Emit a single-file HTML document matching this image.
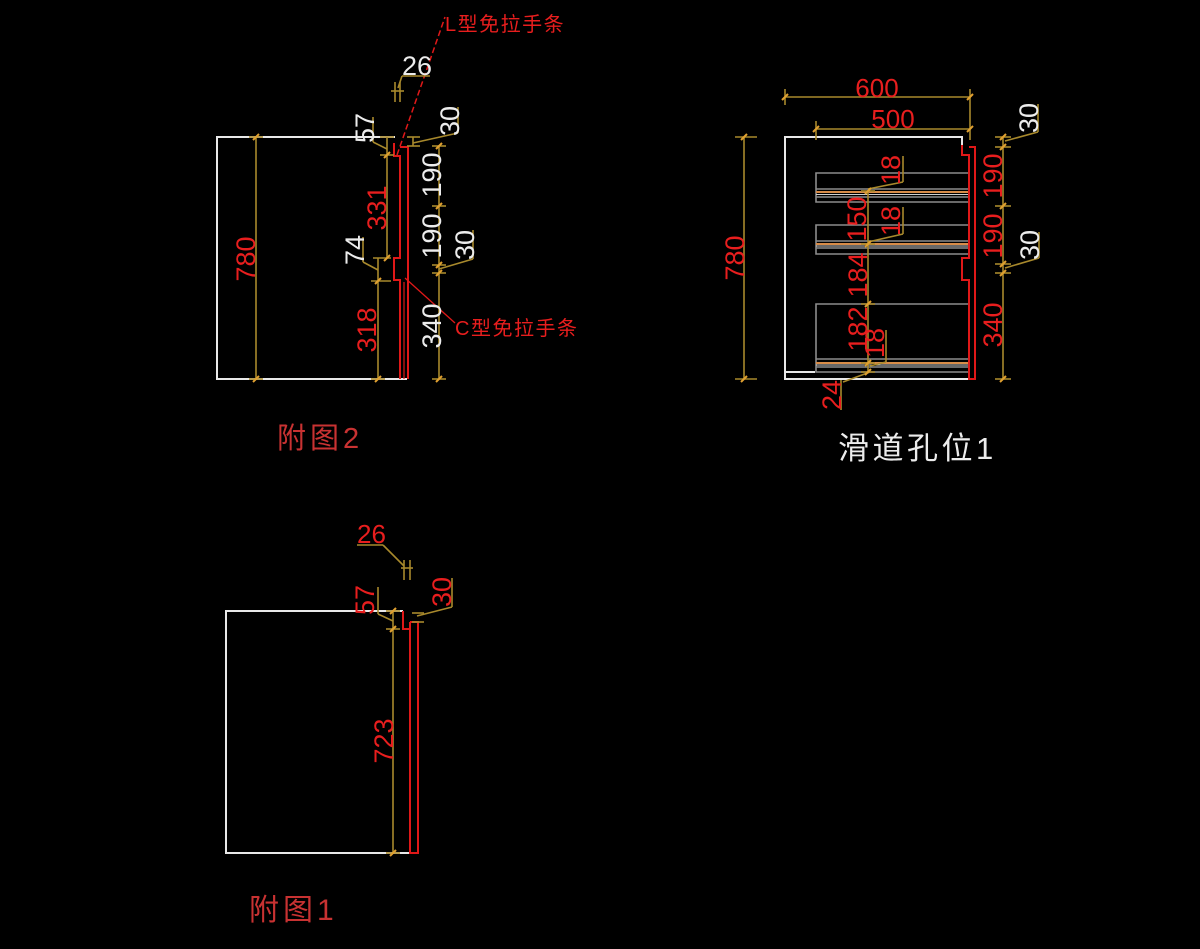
<!DOCTYPE html>
<html><head><meta charset="utf-8"><style>
html,body{margin:0;padding:0;background:#000;}
svg{display:block;}
text{font-family:"Liberation Sans","Noto Sans CJK SC",sans-serif;}
.w{fill:#ececec;} .r{fill:#e81e1e;} .t{fill:#c83232;}
</style></head><body>
<svg width="1200" height="949" viewBox="0 0 1200 949" xmlns="http://www.w3.org/2000/svg">
<rect width="1200" height="949" fill="#000"/>

<!-- ================= 附图2 ================= -->
<g fill="none" stroke="#e8e8e8" stroke-width="2">
  <polyline points="395,137 217,137 217,379 407,379"/>
</g>
<g fill="none" stroke="#e01818" stroke-width="2">
  <path d="M394,143 V156 H400 V258 H394 V280 H400 V379 M400,147 H408 V379"/>
  <line x1="404" y1="282" x2="404" y2="379" stroke-width="1.2"/>
</g>
<!-- leader L -->
<line x1="397" y1="155" x2="445" y2="17" stroke="#e01818" stroke-width="1.5" stroke-dasharray="6,3"/>
<!-- leader C -->
<line x1="405" y1="278" x2="455" y2="323" stroke="#e01818" stroke-width="1.3"/>

<g stroke="#a8892c" stroke-width="1.6" fill="none">
  <!-- 780 -->
  <line x1="256" y1="137" x2="256" y2="379"/>
  <line x1="249" y1="137" x2="263" y2="137"/><line x1="249" y1="379" x2="263" y2="379"/>
  <!-- 57 / 331 -->
  <line x1="387" y1="137" x2="387" y2="258"/>
  <line x1="380" y1="137" x2="394" y2="137"/><line x1="380" y1="155" x2="394" y2="155"/>
  <line x1="373" y1="258" x2="391" y2="258"/>
  <line x1="373" y1="117" x2="373" y2="142"/><line x1="373" y1="142" x2="387" y2="149"/>
  <!-- 74 / 318 -->
  <line x1="378" y1="258" x2="378" y2="379"/>
  <line x1="371" y1="281" x2="391" y2="281"/><line x1="371" y1="379" x2="385" y2="379"/>
  <line x1="363" y1="237" x2="363" y2="262"/><line x1="363" y1="262" x2="378" y2="270"/>
  <!-- right dims -->
  <line x1="439" y1="146" x2="439" y2="379"/>
  <line x1="432" y1="146" x2="446" y2="146"/><line x1="432" y1="206" x2="446" y2="206"/>
  <line x1="432" y1="265" x2="446" y2="265"/><line x1="432" y1="273" x2="446" y2="273"/>
  <line x1="432" y1="379" x2="446" y2="379"/>
  <line x1="407" y1="137" x2="420" y2="137"/><line x1="407" y1="146" x2="420" y2="146"/>
  <line x1="413" y1="137" x2="413" y2="146"/>
  <line x1="413" y1="143" x2="458" y2="133"/><line x1="458" y1="107" x2="458" y2="133"/>
  <line x1="439" y1="269" x2="473" y2="259"/><line x1="473" y1="230" x2="473" y2="259"/>
  <!-- 26 -->
  <line x1="402" y1="76" x2="430" y2="76"/><line x1="402" y1="76" x2="398" y2="88"/>
  <line x1="395" y1="82" x2="395" y2="102"/><line x1="400" y1="82" x2="400" y2="102"/>
  <line x1="391" y1="91" x2="404" y2="91"/>
</g>
<g stroke="#e0a030" stroke-width="2">
  <line x1="253" y1="140" x2="259" y2="134"/><line x1="253" y1="382" x2="259" y2="376"/>
  <line x1="384" y1="158" x2="390" y2="152"/><line x1="384" y1="261" x2="390" y2="255"/>
  <line x1="375" y1="284" x2="381" y2="278"/><line x1="375" y1="382" x2="381" y2="376"/>
  <line x1="436" y1="149" x2="442" y2="143"/><line x1="436" y1="209" x2="442" y2="203"/>
  <line x1="436" y1="268" x2="442" y2="262"/><line x1="436" y1="276" x2="442" y2="270"/>
  <line x1="436" y1="382" x2="442" y2="376"/>
</g>

<g font-size="27">
  <text class="r" transform="translate(255,259) rotate(-90)" text-anchor="middle">780</text>
  <text class="r" transform="translate(386,208) rotate(-90)" text-anchor="middle">331</text>
  <text class="r" transform="translate(376,330) rotate(-90)" text-anchor="middle">318</text>
  <text class="w" transform="translate(364,250) rotate(-90)" text-anchor="middle">74</text>
  <text class="w" transform="translate(374,128) rotate(-90)" text-anchor="middle">57</text>
  <text class="w" transform="translate(441,175) rotate(-90)" text-anchor="middle">190</text>
  <text class="w" transform="translate(441,236) rotate(-90)" text-anchor="middle">190</text>
  <text class="w" transform="translate(459,121) rotate(-90)" text-anchor="middle">30</text>
  <text class="w" transform="translate(474,245) rotate(-90)" text-anchor="middle">30</text>
  <text class="w" transform="translate(441,326) rotate(-90)" text-anchor="middle">340</text>
  <text class="w" x="402" y="75">26</text>
</g>
<text class="r" x="445" y="31" font-size="20" letter-spacing="1.5">L型免拉手条</text>
<text class="r" x="455" y="335" font-size="20" letter-spacing="1.5">C型免拉手条</text>
<text class="t" x="277" y="448" font-size="29" letter-spacing="4">附图2</text>

<!-- ================= 附图1 ================= -->
<g fill="none" stroke="#e8e8e8" stroke-width="2">
  <polyline points="403,611 226,611 226,853 411,853"/>
</g>
<g fill="none" stroke="#e01818" stroke-width="2">
  <path d="M403,611 V629 H410 M410,622 H418 V853 H410 V622"/>
</g>
<g stroke="#a8892c" stroke-width="1.6" fill="none">
  <line x1="393" y1="611" x2="393" y2="853"/>
  <line x1="386" y1="611" x2="400" y2="611"/><line x1="386" y1="629" x2="400" y2="629"/>
  <line x1="386" y1="853" x2="400" y2="853"/>
  <line x1="378" y1="587" x2="378" y2="614"/><line x1="378" y1="614" x2="393" y2="621"/>
  <line x1="452" y1="578" x2="452" y2="607"/><line x1="452" y1="607" x2="417" y2="616"/>
  <line x1="412" y1="613" x2="424" y2="613"/><line x1="412" y1="622" x2="424" y2="622"/>
  <line x1="357" y1="545" x2="383" y2="545"/><line x1="383" y1="545" x2="404" y2="566"/>
  <line x1="404" y1="560" x2="404" y2="580"/><line x1="410" y1="560" x2="410" y2="580"/>
  <line x1="401" y1="568" x2="413" y2="568"/>
</g>
<g stroke="#e0a030" stroke-width="2">
  <line x1="390" y1="614" x2="396" y2="608"/><line x1="390" y1="632" x2="396" y2="626"/>
  <line x1="390" y1="856" x2="396" y2="850"/>
</g>
<g font-size="27">
  <text class="r" transform="translate(393,741) rotate(-90)" text-anchor="middle">723</text>
  <text class="r" transform="translate(374,600) rotate(-90)" text-anchor="middle">57</text>
  <text class="r" transform="translate(451,592) rotate(-90)" text-anchor="middle">30</text>
  <text class="r" x="357" y="543" font-size="26">26</text>
</g>
<text class="t" x="249" y="920" font-size="30" letter-spacing="4">附图1</text>

<!-- ================= 滑道孔位1 ================= -->
<g fill="none" stroke="#e8e8e8" stroke-width="2">
  <polyline points="962,145 962,137 785,137 785,379 970,379"/>
  <polyline points="785,372 815,372"/>
</g>
<!-- drawers -->
<g fill="none" stroke="#8c8c8c" stroke-width="1.6">
  <polyline points="969,173 816,173 816,202 969,202"/>
  <line x1="816" y1="189" x2="969" y2="189"/><line x1="816" y1="197" x2="969" y2="197"/>
  <polyline points="969,225 816,225 816,254 969,254"/>
  <line x1="816" y1="241" x2="969" y2="241"/><line x1="816" y1="248" x2="969" y2="248"/>
  <polyline points="969,304 816,304 816,372 969,372"/>
  <line x1="816" y1="359" x2="969" y2="359"/><line x1="816" y1="367" x2="969" y2="367"/>
</g>
<g stroke="#d88c48" stroke-width="2">
  <line x1="816" y1="192" x2="969" y2="192"/>
  <line x1="816" y1="244" x2="969" y2="244"/>
  <line x1="816" y1="363" x2="969" y2="363"/>
</g>
<g stroke="#d0d0d0" stroke-width="1">
  <line x1="816" y1="194.5" x2="969" y2="194.5"/>
  <line x1="816" y1="246" x2="969" y2="246"/>
  <line x1="816" y1="365" x2="969" y2="365"/>
</g>
<g fill="none" stroke="#e01818" stroke-width="2">
  <path d="M962,145 V155 H969 V258 H962 V280 H969 V379 H975 V147 H969"/>
</g>
<g stroke="#a8892c" stroke-width="1.6" fill="none">
  <!-- 600 -->
  <line x1="785" y1="97" x2="970" y2="97"/>
  <line x1="785" y1="89" x2="785" y2="105"/><line x1="970" y1="89" x2="970" y2="140"/>
  <!-- 500 -->
  <line x1="816" y1="129" x2="970" y2="129"/>
  <line x1="816" y1="121" x2="816" y2="140"/>
  <!-- 780 -->
  <line x1="744" y1="137" x2="744" y2="379"/>
  <line x1="735" y1="137" x2="757" y2="137"/><line x1="735" y1="379" x2="757" y2="379"/>
  <!-- right -->
  <line x1="1003" y1="137" x2="1003" y2="379"/>
  <line x1="995" y1="137" x2="1011" y2="137"/><line x1="995" y1="147" x2="1011" y2="147"/>
  <line x1="995" y1="206" x2="1011" y2="206"/><line x1="995" y1="264" x2="1011" y2="264"/>
  <line x1="995" y1="273" x2="1011" y2="273"/><line x1="995" y1="379" x2="1011" y2="379"/>
  <line x1="1005" y1="141" x2="1038" y2="132"/><line x1="1038" y1="104" x2="1038" y2="132"/>
  <line x1="1005" y1="268" x2="1039" y2="258"/><line x1="1039" y1="232" x2="1039" y2="258"/>
  <!-- middle -->
  <line x1="868" y1="191" x2="868" y2="372"/>
  <line x1="861" y1="191" x2="875" y2="191"/><line x1="861" y1="244" x2="875" y2="244"/>
  <line x1="861" y1="304" x2="875" y2="304"/><line x1="861" y1="363" x2="875" y2="363"/>
  <line x1="861" y1="372" x2="875" y2="372"/>
  <line x1="868" y1="189" x2="903" y2="182"/><line x1="903" y1="156" x2="903" y2="182"/>
  <line x1="868" y1="242" x2="903" y2="234"/><line x1="903" y1="207" x2="903" y2="234"/>
  <line x1="870" y1="366" x2="886" y2="362"/><line x1="886" y1="330" x2="886" y2="362"/>
  <line x1="843" y1="382" x2="870" y2="372"/><line x1="841" y1="380" x2="841" y2="410"/>
</g>
<g stroke="#e0a030" stroke-width="2">
  <line x1="782" y1="100" x2="788" y2="94"/><line x1="967" y1="100" x2="973" y2="94"/>
  <line x1="813" y1="132" x2="819" y2="126"/><line x1="967" y1="132" x2="973" y2="126"/>
  <line x1="741" y1="140" x2="747" y2="134"/><line x1="741" y1="382" x2="747" y2="376"/>
  <line x1="1000" y1="140" x2="1006" y2="134"/><line x1="1000" y1="150" x2="1006" y2="144"/>
  <line x1="1000" y1="209" x2="1006" y2="203"/><line x1="1000" y1="267" x2="1006" y2="261"/>
  <line x1="1000" y1="276" x2="1006" y2="270"/><line x1="1000" y1="382" x2="1006" y2="376"/>
  <line x1="865" y1="194" x2="871" y2="188"/><line x1="865" y1="247" x2="871" y2="241"/>
  <line x1="865" y1="307" x2="871" y2="301"/><line x1="865" y1="366" x2="871" y2="360"/>
  <line x1="865" y1="375" x2="871" y2="369"/>
</g>
<g font-size="27">
  <text class="r" x="877" y="97" font-size="26" text-anchor="middle">600</text>
  <text class="r" x="893" y="128" font-size="26" text-anchor="middle">500</text>
  <text class="r" transform="translate(744,258) rotate(-90)" text-anchor="middle">780</text>
  <text class="r" transform="translate(1002,176) rotate(-90)" text-anchor="middle">190</text>
  <text class="r" transform="translate(1002,236) rotate(-90)" text-anchor="middle">190</text>
  <text class="r" transform="translate(1002,325) rotate(-90)" text-anchor="middle">340</text>
  <text class="w" transform="translate(1038,118) rotate(-90)" text-anchor="middle">30</text>
  <text class="w" transform="translate(1039,245) rotate(-90)" text-anchor="middle">30</text>
  <text class="r" transform="translate(866,219) rotate(-90)" text-anchor="middle">150</text>
  <text class="r" transform="translate(867,275) rotate(-90)" text-anchor="middle">184</text>
  <text class="r" transform="translate(867,329) rotate(-90)" text-anchor="middle">182</text>
  <text class="r" transform="translate(900,170) rotate(-90)" text-anchor="middle">18</text>
  <text class="r" transform="translate(900,221) rotate(-90)" text-anchor="middle">18</text>
  <text class="r" transform="translate(884,343) rotate(-90)" text-anchor="middle">18</text>
  <text class="r" transform="translate(841,395) rotate(-90)" text-anchor="middle">24</text>
</g>
<text class="w" x="838" y="459" font-size="31" letter-spacing="3.5">滑道孔位1</text>
</svg>
</body></html>
